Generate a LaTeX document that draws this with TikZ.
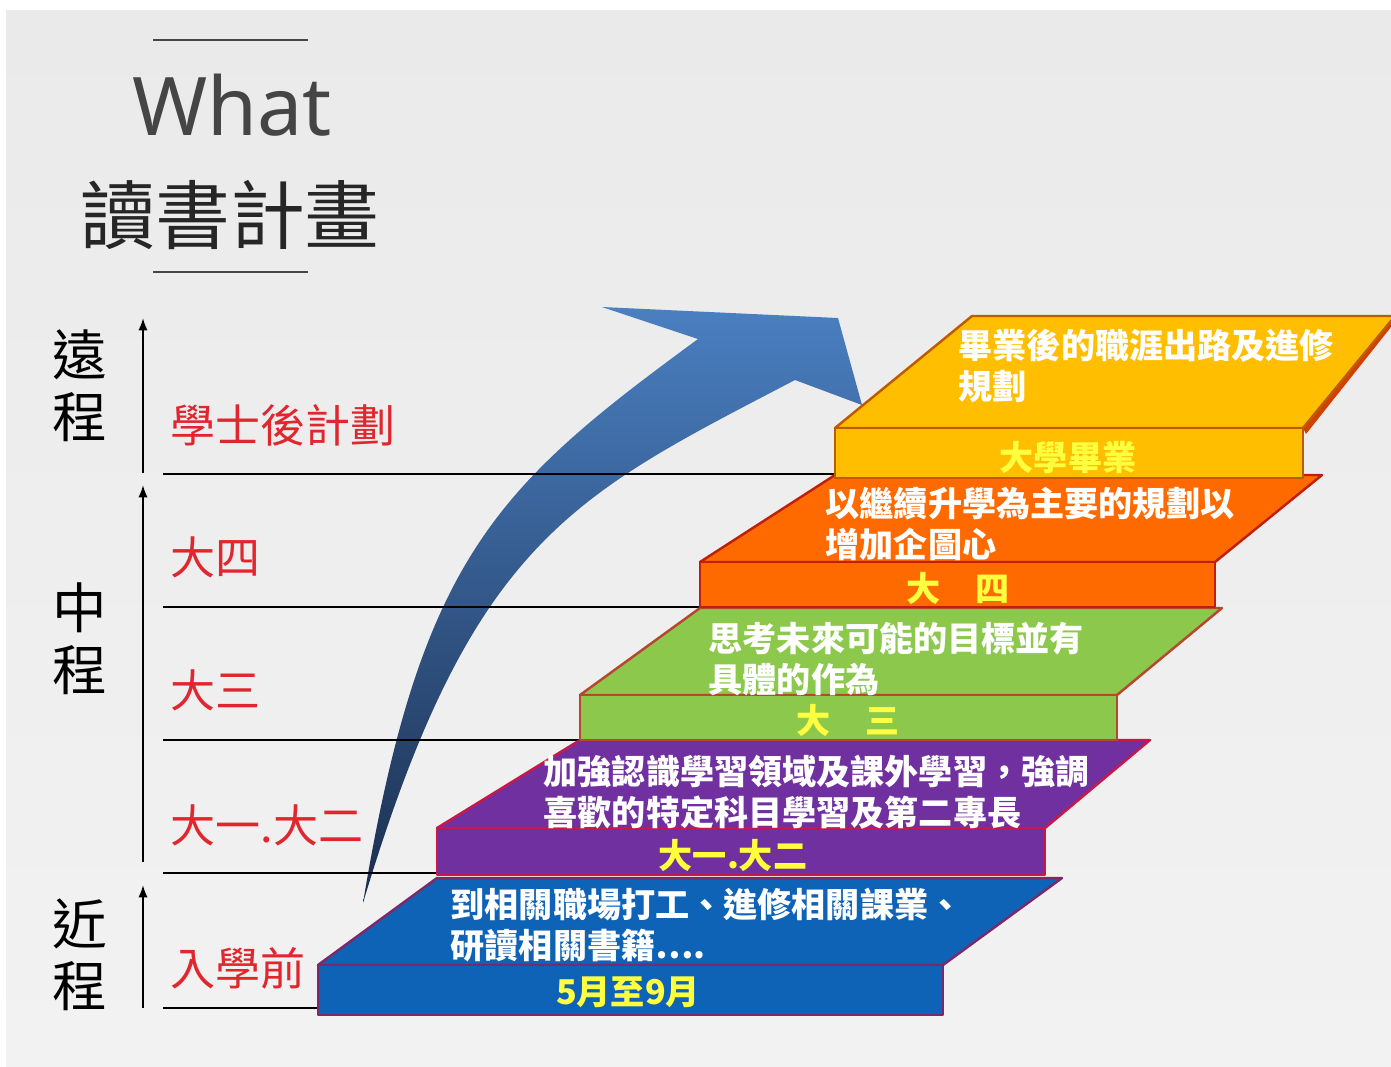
\documentclass[tikz,border=0pt]{standalone}
\usepackage{fontspec}
\setmainfont{Noto Sans CJK TC}
\newfontfamily\latinfont{Noto Sans}
\usetikzlibrary{arrows.meta}

\definecolor{bgtop}{HTML}{EAEAEA}
\definecolor{bgbot}{HTML}{F2F2F2}
\definecolor{titlegray}{HTML}{454545}
\definecolor{labelred}{HTML}{E0262E}
\definecolor{arrowtop}{HTML}{4A7FC1}
\definecolor{arrowmid}{HTML}{2F5488}
\definecolor{arrowbot}{HTML}{1B2E4E}
\definecolor{stepblue}{HTML}{0E63B7}
\definecolor{blueedge}{HTML}{7A2A6A}
\definecolor{steppurple}{HTML}{7030A0}
\definecolor{purpleedge}{HTML}{C8184A}
\definecolor{stepgreen}{HTML}{8CC84B}
\definecolor{greenedge}{HTML}{B5482E}
\definecolor{steporange}{HTML}{FF6A00}
\definecolor{orangeedge}{HTML}{C0200A}
\definecolor{stepyellow}{HTML}{FFBF00}
\definecolor{yellowedge}{HTML}{C05A00}
\definecolor{yearyellow}{HTML}{FFFF40}

\begin{document}
\begin{tikzpicture}[x=0.01cm, y=-0.01cm,
    hline/.style={black, line width=0.6pt},
    axis/.style={black, line width=0.5pt, -{Latex[length=3.5pt,width=2.6pt]}},
    phase/.style={font=\fontsize{12.8}{15}\selectfont, text=labelred, anchor=west, inner sep=0pt},
    span/.style={font=\fontsize{15.5}{17.6}\selectfont, align=center, inner sep=0pt},
    desc/.style={font=\bfseries\fontsize{9.7}{11.7}\selectfont, text=white, align=left, anchor=west, inner sep=0pt},
    yearlbl/.style={font=\bfseries\fontsize{9.7}{11.7}\selectfont, text=yearyellow, inner sep=0pt},
    slab/.style={line width=0.7pt, line join=round}]

    \useasboundingbox (0,0) rectangle (1391,1066);
    \fill[white] (0,0) rectangle (1391,1066);
    \shade[top color=bgtop, bottom color=bgbot] (6,10) rectangle (1391,1066);

    \draw[titlegray, line width=0.6pt] (153,40) -- (308,40);
    \node[font=\latinfont\fontsize{23}{28}\selectfont, text=titlegray, anchor=base, inner sep=0pt] (what) at (232,135) {What};
    \node[font=\fontsize{21.3}{25}\selectfont, text=black!85, inner sep=0pt] (title) at (230,215) {讀書計畫};
    \draw[titlegray, line width=0.6pt] (153,272) -- (308,272);

    \shade[top color=arrowtop, middle color=arrowmid, bottom color=arrowbot]
        (363,903) .. controls (420,558) and (496,487) .. (698,339)
        -- (602,307) -- (838,318) -- (862,405) -- (795,380)
        .. controls (573,496) and (472,539) .. (363,903)
        -- cycle;

    \coordinate (farBot) at (143,473);
    \coordinate (farTop) at (143,318);
    \coordinate (midBot) at (143,862);
    \coordinate (midTop) at (143,485);
    \coordinate (nearBot) at (143,1008);
    \coordinate (nearTop) at (143,885);
    \draw[axis] (farBot) -- (farTop);
    \draw[axis] (midBot) -- (midTop);
    \draw[axis] (nearBot) -- (nearTop);

    \node[span] (far) at (80,386) {遠\\程};
    \node[span] (mid) at (80,639) {中\\程};
    \node[span] (near) at (80,955) {近\\程};

    \draw[hline] (163,474) -- (840,474);
    \draw[hline] (163,607) -- (705,607);
    \draw[hline] (163,740) -- (585,740);
    \draw[hline] (163,873) -- (442,873);
    \draw[hline] (163,1008) -- (323,1008);

    \node[phase] (postGrad) at (170,425) {學士後計劃};
    \node[phase] (senior) at (170,557) {大四};
    \node[phase] (junior) at (170,690) {大三};
    \node[phase] (lower) at (170,825) {大一.大二};
    \node[phase] (before) at (170,968) {入學前};

    \draw[slab, fill=stepblue, draw=blueedge] (318,965) -- (437,878) -- (1062,878) -- (943,965) -- cycle;
    \draw[slab, fill=stepblue, draw=blueedge] (318,965) rectangle (943,1015);
    \node[desc] (blueText) at (450,925) {到相關職場打工、進修相關課業、\\研讀相關書籍….};
    \node[yearlbl] (blueYear) at (628,992) {5月至9月};

    \draw[slab, fill=steppurple, draw=purpleedge] (437,828) -- (580,740) -- (1150,740) -- (1045,828) -- cycle;
    \draw[slab, fill=steppurple, draw=purpleedge] (437,828) rectangle (1045,875);
    \node[desc] (purpleText) at (543,792) {加強認識學習領域及課外學習，強調\\喜歡的特定科目學習及第二專長};
    \node[yearlbl] (purpleYear) at (733,855) {大一.大二};

    \draw[slab, fill=stepgreen, draw=greenedge] (580,695) -- (700,608) -- (1222,608) -- (1117,695) -- cycle;
    \draw[slab, fill=stepgreen, draw=greenedge] (580,695) rectangle (1117,740);
    \node[desc] (greenText) at (708,659) {思考未來可能的目標並有\\具體的作為};
    \node[yearlbl] (greenYear) at (848,720) {大\hspace{1em}三};

    \draw[slab, fill=steporange, draw=orangeedge] (700,562) -- (835,475) -- (1322,475) -- (1215,562) -- cycle;
    \draw[slab, fill=steporange, draw=orangeedge] (700,562) rectangle (1215,607);
    \node[desc] (orangeText) at (825,524) {以繼續升學為主要的規劃以\\增加企圖心};
    \node[yearlbl] (orangeYear) at (958,588) {大\hspace{1em}四};

    \fill[yellowedge!70!red] (1303,428) -- (1395,316) -- (1395,322) -- (1306,434) -- cycle;
    \draw[slab, fill=stepyellow, draw=yellowedge] (835,428) -- (972,316) -- (1395,316) -- (1303,428) -- cycle;
    \draw[slab, fill=stepyellow, draw=yellowedge] (835,428) rectangle (1303,478);
    \node[desc] (yellowText) at (958,366) {畢業後的職涯出路及進修\\規劃};
    \node[yearlbl] (yellowYear) at (1068,458) {大學畢業};

\end{tikzpicture}
\end{document}
